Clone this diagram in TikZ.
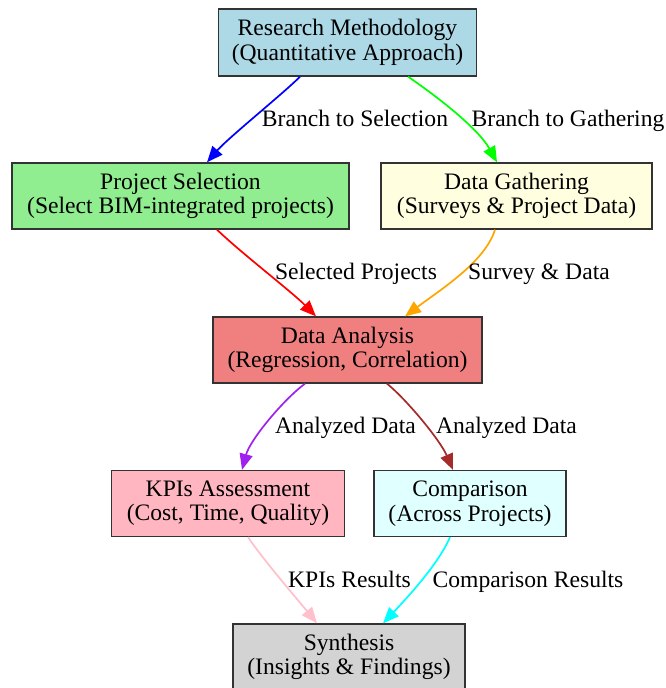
\documentclass[tikz,border=0pt]{standalone}
\usepackage{fontspec}
\setmainfont{Liberation Serif}
\usetikzlibrary{arrows.meta}

% node fills
\definecolor{fillblue}{HTML}{ADD8E6}
\definecolor{fillgreen}{HTML}{90EE90}
\definecolor{fillyellow}{HTML}{FFFFE0}
\definecolor{fillcoral}{HTML}{F08080}
\definecolor{fillpink}{HTML}{FFB6C1}
\definecolor{fillcyan}{HTML}{E0FFFF}
\definecolor{fillgrey}{HTML}{D3D3D3}
% edge colours
\definecolor{eblue}{HTML}{0000FF}
\definecolor{egreen}{HTML}{00FF00}
\definecolor{ered}{HTML}{FF0000}
\definecolor{eorange}{HTML}{FFA500}
\definecolor{epurple}{HTML}{A020F0}
\definecolor{ebrown}{HTML}{A52A2A}
\definecolor{epink}{HTML}{FFC0CB}
\definecolor{ecyan}{HTML}{00FFFF}

\begin{document}
\begin{tikzpicture}[x=1pt,y=-1pt,
  box/.style={draw=black!80, line width=1.3pt, align=center, inner sep=0pt,
    minimum height=66pt, font=\fontsize{23.6}{24.5}\selectfont},
  lbl/.style={anchor=base, inner sep=0pt, font=\fontsize{23.6}{24.5}\selectfont},
  flow/.style={line width=1.7pt, -{Triangle[length=16pt,width=13pt]}}]

\useasboundingbox (0,0) rectangle (665,688);

% process boxes
\node[box, fill=fillblue,   minimum width=258pt, minimum height=67pt] (rm)  at (347.5,42.5) {Research Methodology\\(Quantitative Approach)};
\node[box, fill=fillgreen,  minimum width=337pt] (ps)  at (180.5,196) {Project Selection\\(Select BIM-integrated projects)};
\node[box, fill=fillyellow, minimum width=271pt] (dg)  at (516.5,196) {Data Gathering\\(Surveys \& Project Data)};
\node[box, fill=fillcoral,  minimum width=269pt] (da)  at (347.5,350) {Data Analysis\\(Regression, Correlation)};
\node[box, fill=fillpink,   minimum width=233pt] (kpi) at (228,503.5) {KPIs Assessment\\(Cost, Time, Quality)};
\node[box, fill=fillcyan,   minimum width=192pt] (cmp) at (470,503.5) {Comparison\\(Across Projects)};
\node[box, fill=fillgrey,   minimum width=232pt] (syn) at (349,657) {Synthesis\\(Insights \& Findings)};

% connectors
\draw[flow, eblue]   ([xshift=-47.5pt]rm.south) .. controls (285,92) and (228,138) .. ([xshift=26.5pt]ps.north);
\draw[flow, egreen]  ([xshift=60.5pt]rm.south)  .. controls (435,95) and (478,128) .. ([xshift=-19.5pt]dg.north);
\draw[flow, ered]    ([xshift=36.5pt]ps.south)  .. controls (240,252) and (292,292) .. ([xshift=-31.5pt]da.north);
\draw[flow, eorange] ([xshift=-21.5pt]dg.south) .. controls (485,262) and (440,290) .. ([xshift=57.5pt]da.north);
\draw[flow, epurple] ([xshift=-42.5pt]da.south) .. controls (283,400) and (250,440) .. ([xshift=14pt]kpi.north);
\draw[flow, ebrown]  ([xshift=39.5pt]da.south)  .. controls (407,400) and (440,440) .. ([xshift=-17pt]cmp.north);
\draw[flow, epink]   ([xshift=20pt]kpi.south)   .. controls (265,562) and (298,600) .. ([xshift=-32pt]syn.north);
\draw[flow, ecyan]   ([xshift=-20pt]cmp.south)  .. controls (438,565) and (405,600) .. ([xshift=34pt]syn.north);

% connector labels
\node[lbl] (l1) at (355,126) {Branch to Selection};
\node[lbl] (l2) at (568,126) {Branch to Gathering};
\node[lbl] (l3) at (356,279) {Selected Projects};
\node[lbl] (l4) at (539,279) {Survey \& Data};
\node[lbl] (l5) at (345.5,433) {Analyzed Data};
\node[lbl] (l6) at (506.5,433) {Analyzed Data};
\node[lbl] (l7) at (349.5,587) {KPIs Results};
\node[lbl] (l8) at (528,587) {Comparison Results};
\end{tikzpicture}
\end{document}
